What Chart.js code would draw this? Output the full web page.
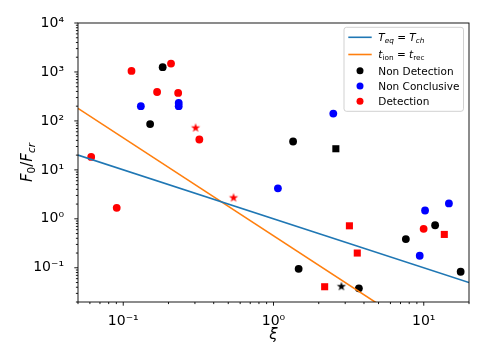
<!DOCTYPE html>
<html>
<head>
<meta charset="utf-8">
<script src="https://cdn.jsdelivr.net/npm/chart.js@4/dist/chart.umd.min.js"></script>
<style>
  html, body { margin: 0; padding: 0; background: #fff; }
</style>
</head>
<body>
<canvas id="myChart" width="485" height="364"></canvas>
<script>
// Non Detection (preto) - c = circulo, s = quadrado, * = estrela
const ndXi = [0.183, 0.151, 1.35, 11.9, 7.6, 1.47, 17.6, 3.7, 2.6, 2.83];
const ndF = [1250, 86, 38, 0.74, 0.385, 0.095, 0.083, 0.038, 27, 0.042];
const ndShape = ['c', 'c', 'c', 'c', 'c', 'c', 'c', 'c', 's', '*'];

// Non Conclusive (azul)
const ncXi = [0.131, 0.234, 0.234, 2.5, 1.07, 10.2, 14.7, 9.4];
const ncF = [200, 200, 232, 141, 4.2, 1.48, 2.06, 0.176];

// Detection (vermelho)
const detXi = [0.0612, 0.1135, 0.208, 0.168, 0.232, 0.321, 0.0905, 9.98, 0.303, 0.542, 3.2, 13.7, 3.61, 2.19];
const detF = [18.4, 1050, 1480, 390, 373, 41.7, 1.68, 0.625, 73, 2.73, 0.72, 0.48, 0.2, 0.041];
const detShape = ['c', 'c', 'c', 'c', 'c', 'c', 'c', 'c', '*', '*', 's', 's', 's', 's'];

// Linhas teoricas (extremos)
const teqXi = [0.05, 20];
const teqF = [20, 0.05];
const tionXi = [0.05, 20];
const tionF = [180, 0.001125];

// Ticks
const xTicks = [0.1, 1, 10];
const xTickLabels = ['10⁻¹', '10⁰', '10¹'];
const yTicks = [0.1, 1, 10, 100, 1000, 10000];
const yTickLabels = ['10⁻¹', '10⁰', '10¹', '10²', '10³', '10⁴'];

const FONT = 'DejaVu Sans';
Chart.defaults.font.family = FONT;

// estrela tipo matplotlib
const starCache = {};
function starImg(color) {
    if (starCache[color]) return starCache[color];
    const c = document.createElement('canvas');
    c.width = 12; c.height = 12;
    const g = c.getContext('2d');
    g.fillStyle = color;
    g.beginPath();
    for (let i = 0; i < 10; i++) {
        const r = i % 2 === 0 ? 4.8 : 1.9;
        const a = -Math.PI / 2 + i * Math.PI / 5;
        const px = 6 + r * Math.cos(a), py = 6.3 + r * Math.sin(a);
        if (i === 0) g.moveTo(px, py); else g.lineTo(px, py);
    }
    g.closePath();
    g.fill();
    starCache[color] = c;
    return c;
}
function styleOf(s, color) {
    if (s === 's') return 'rect';
    if (s === '*') return starImg(color);
    return 'circle';
}
function radiusOf(s) {
    return s === 's' ? 5 : 3.9;
}
function pts(xs, ys) {
    return xs.map((x, i) => ({ x: x, y: ys[i] }));
}

// ticks menores + maiores
function logTicks(min, max) {
    const out = [];
    for (let e = Math.floor(Math.log10(min)); e <= Math.ceil(Math.log10(max)); e++) {
        for (let m = 1; m < 10; m++) {
            const v = Number((m * Math.pow(10, e)).toPrecision(6));
            if (v >= min * 0.999 && v <= max * 1.001) out.push(v);
        }
    }
    return out;
}
function findLabel(v, vals, labels) {
    for (let i = 0; i < vals.length; i++) {
        if (Math.abs(v - vals[i]) / vals[i] < 1e-6) return labels[i];
    }
    return '';
}

// legenda com subscritos
const richLabels = {
    'T_eq = T_ch': [{ t: 'T', it: true }, { t: 'eq', it: true, sub: true }, { t: ' = ' }, { t: 'T', it: true }, { t: 'ch', it: true, sub: true }],
    't_ion = t_rec': [{ t: 't', it: true }, { t: 'ion', sub: true }, { t: ' = ' }, { t: 't', it: true }, { t: 'rec', sub: true }]
};

function richWidth(ctx, segs, size) {
    let w = 0;
    segs.forEach(s => {
        const sz = s.sub ? size * 0.7 : size;
        ctx.font = (s.it ? 'italic ' : '') + sz + 'px "' + FONT + '"';
        w += ctx.measureText(s.t).width;
    });
    return w;
}
function drawRich(ctx, x, y, segs, size) {
    segs.forEach(s => {
        const sz = s.sub ? size * 0.7 : size;
        ctx.font = (s.it ? 'italic ' : '') + sz + 'px "' + FONT + '"';
        ctx.fillText(s.t, x, y + (s.sub ? size * 0.22 : 0));
        x += ctx.measureText(s.t).width;
    });
}

const framePlugin = {
    id: 'frame',
    afterDraw(chart) {
        const ctx = chart.ctx, a = chart.chartArea;
        const xs = chart.scales.x, ys = chart.scales.y;
        ctx.save();
        ctx.strokeStyle = '#000';
        ctx.lineWidth = 0.9;
        ctx.strokeRect(a.left, a.top, a.right - a.left, a.bottom - a.top);
        ctx.beginPath();
        xs.ticks.forEach(t => {
            const p = xs.getPixelForValue(t.value);
            const L = t.major ? 3.7 : 2.1;
            ctx.moveTo(p, a.bottom); ctx.lineTo(p, a.bottom + L);
        });
        ys.ticks.forEach(t => {
            const p = ys.getPixelForValue(t.value);
            const L = t.major ? 3.7 : 2.1;
            ctx.moveTo(a.left, p); ctx.lineTo(a.left - L, p);
        });
        ctx.stroke();

        // titulo eixo x
        ctx.fillStyle = '#000';
        ctx.textBaseline = 'alphabetic';
        ctx.textAlign = 'center';
        ctx.font = 'italic 15px "' + FONT + '"';
        ctx.fillText('ξ', (a.left + a.right) / 2, 339);

        // titulo eixo y
        const ySegs = [{ t: 'F', it: true }, { t: '0', sub: true }, { t: '/' }, { t: 'F', it: true }, { t: 'cr', it: true, sub: true }];
        ctx.textAlign = 'left';
        const yw = richWidth(ctx, ySegs, 15);
        ctx.save();
        ctx.translate(32, (a.top + a.bottom) / 2);
        ctx.rotate(-Math.PI / 2);
        drawRich(ctx, -yw / 2, 0, ySegs, 15);
        ctx.restore();

        // legenda
        const lx = 344, ly = 27.3, lw = 119.5, lh = 84;
        ctx.fillStyle = 'rgba(255,255,255,0.8)';
        ctx.strokeStyle = '#cccccc';
        ctx.lineWidth = 0.9;
        ctx.beginPath();
        ctx.roundRect(lx, ly, lw, lh, 2.5);
        ctx.fill();
        ctx.stroke();
        const rows = [37.3, 54.5, 70.7, 86, 101.3];
        chart.data.datasets.forEach((ds, i) => {
            const yy = rows[i];
            if (ds.showLine) {
                ctx.strokeStyle = ds.borderColor;
                ctx.lineWidth = 1.6;
                ctx.beginPath();
                ctx.moveTo(348.3, yy); ctx.lineTo(371.7, yy);
                ctx.stroke();
            } else {
                ctx.fillStyle = ds.backgroundColor;
                ctx.beginPath();
                ctx.arc(360, yy, 3.5, 0, Math.PI * 2);
                ctx.fill();
            }
            ctx.fillStyle = '#000';
            if (richLabels[ds.label]) {
                drawRich(ctx, 378.3, yy + 3.5, richLabels[ds.label], 10.5);
            } else {
                ctx.font = '10.5px "' + FONT + '"';
                ctx.fillText(ds.label, 378.3, yy + 3.8);
            }
        });
        ctx.restore();
    }
};

const ctx = document.getElementById('myChart').getContext('2d');
const myChart = new Chart(ctx, {
    type: 'scatter',
    data: {
        datasets: [
            {
                label: 'T_eq = T_ch',
                data: pts(teqXi, teqF),
                showLine: true,
                borderColor: '#1f77b4',
                borderWidth: 1.6,
                pointRadius: 0,
                fill: false
            },
            {
                label: 't_ion = t_rec',
                data: pts(tionXi, tionF),
                showLine: true,
                borderColor: '#ff7f0e',
                borderWidth: 1.6,
                pointRadius: 0,
                fill: false
            },
            {
                label: 'Non Detection',
                data: pts(ndXi, ndF),
                backgroundColor: 'black',
                borderColor: 'black',
                borderWidth: 0,
                pointStyle: ndShape.map(s => styleOf(s, 'black')),
                pointRadius: ndShape.map(radiusOf)
            },
            {
                label: 'Non Conclusive',
                data: pts(ncXi, ncF),
                backgroundColor: 'blue',
                borderColor: 'blue',
                borderWidth: 0,
                pointStyle: 'circle',
                pointRadius: 3.9
            },
            {
                label: 'Detection',
                data: pts(detXi, detF),
                backgroundColor: 'red',
                borderColor: 'red',
                borderWidth: 0,
                pointStyle: detShape.map(s => styleOf(s, 'red')),
                pointRadius: detShape.map(radiusOf)
            }
        ]
    },
    options: {
        responsive: false,
        animation: false,
        devicePixelRatio: 1,
        layout: { padding: { top: 23, right: 16, left: 0, bottom: 0 } },
        plugins: {
            legend: { display: false },
            tooltip: { enabled: false }
        },
        scales: {
            x: {
                type: 'logarithmic',
                position: 'bottom',
                min: 0.05,
                max: 20,
                grid: { display: false },
                border: { display: false },
                afterBuildTicks: s => {
                    s.ticks = logTicks(0.05, 20).map(v => ({ value: v, major: xTicks.some(t => Math.abs(v - t) / t < 1e-6) }));
                },
                afterFit: s => { s.height = 62; },
                ticks: {
                    autoSkip: false,
                    maxRotation: 0,
                    padding: 3,
                    color: '#000',
                    font: { size: 14 },
                    callback: v => findLabel(v, xTicks, xTickLabels)
                }
            },
            y: {
                type: 'logarithmic',
                min: 0.02,
                max: 10000,
                grid: { display: false },
                border: { display: false },
                afterBuildTicks: s => {
                    s.ticks = logTicks(0.02, 10000).map(v => ({ value: v, major: yTicks.some(t => Math.abs(v - t) / t < 1e-6) }));
                },
                afterFit: s => { s.width = 78; },
                ticks: {
                    autoSkip: false,
                    padding: 6,
                    color: '#000',
                    font: { size: 14 },
                    callback: v => findLabel(v, yTicks, yTickLabels)
                }
            }
        }
    },
    plugins: [framePlugin]
});
</script>
</body>
</html>
